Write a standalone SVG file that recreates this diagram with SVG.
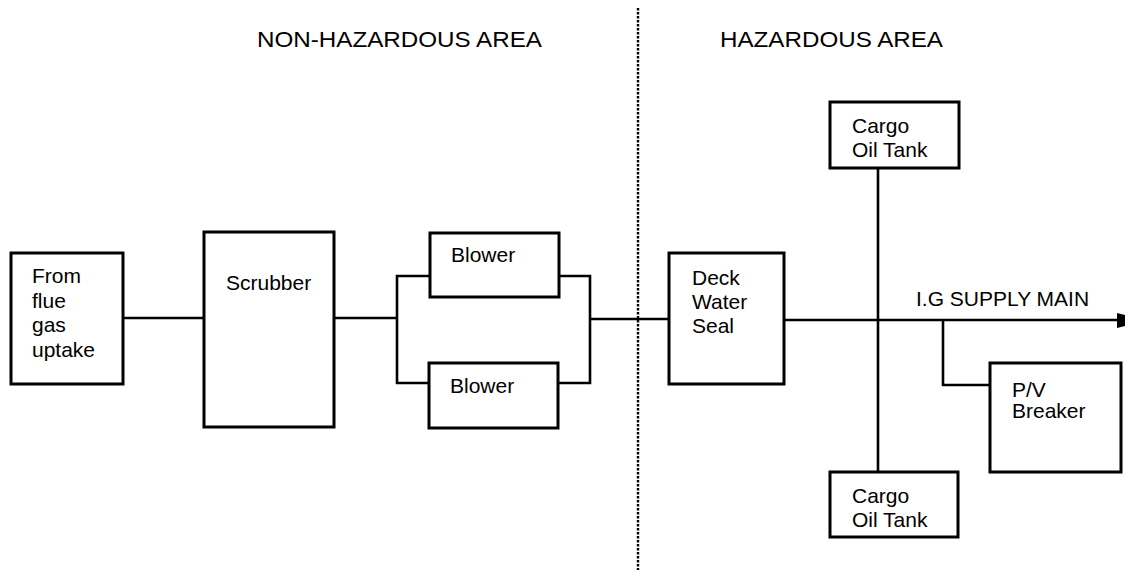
<svg xmlns="http://www.w3.org/2000/svg" width="1125" height="572" viewBox="0 0 1125 572">
<style>
.box{fill:#fff;stroke:#000;stroke-width:3}
.ln{fill:none;stroke:#000;stroke-width:2.6}
.t{font-family:"Liberation Sans",Arial,sans-serif;font-size:21px;fill:#000}
.h{font-family:"Liberation Sans",Arial,sans-serif;font-size:22px;fill:#000}
.dot{stroke:#000;stroke-width:2.4;stroke-dasharray:2.5 1.5;fill:none}
</style>
<rect width="1125" height="572" fill="#fff"/>
<text class="h" x="257" y="47" textLength="285" lengthAdjust="spacingAndGlyphs">NON-HAZARDOUS AREA</text>
<text class="h" x="720" y="47" textLength="223" lengthAdjust="spacingAndGlyphs">HAZARDOUS AREA</text>
<line class="dot" x1="638" y1="8" x2="638" y2="570"/>
<g id="connectors">
<line class="ln" x1="123" y1="318" x2="204" y2="318"/>
<line class="ln" x1="334" y1="318" x2="397" y2="318"/>
<polyline class="ln" points="430,276 397,276 397,383 429,383"/>
<polyline class="ln" points="559,276 590,276 590,383 558,383"/>
<line class="ln" x1="590" y1="319" x2="669" y2="319"/>
<line class="ln" x1="784" y1="320" x2="1118" y2="320"/>
<polygon points="1117,313 1125,315 1125,326 1117,328" fill="#000"/>
<line class="ln" x1="878" y1="168" x2="878" y2="472"/>
<polyline class="ln" points="943,320 943,385 990,385"/>
</g>
<g id="flue">
<rect class="box" x="11" y="253" width="112" height="131"/>
<text class="t" x="32" y="283">From</text>
<text class="t" x="32" y="308">flue</text>
<text class="t" x="32" y="332">gas</text>
<text class="t" x="32" y="357">uptake</text>
</g>
<g id="scrubber">
<rect class="box" x="204" y="232" width="130" height="195"/>
<text class="t" x="226" y="290">Scrubber</text>
</g>
<g id="blower1">
<rect class="box" x="430" y="233" width="129" height="64"/>
<text class="t" x="451" y="262">Blower</text>
</g>
<g id="blower2">
<rect class="box" x="429" y="363" width="129" height="65"/>
<text class="t" x="450" y="393">Blower</text>
</g>
<g id="seal">
<rect class="box" x="669" y="253" width="115" height="131"/>
<text class="t" x="692" y="285">Deck</text>
<text class="t" x="692" y="309">Water</text>
<text class="t" x="692" y="333">Seal</text>
</g>
<g id="tank-top">
<rect class="box" x="830" y="102" width="129" height="66"/>
<text class="t" x="852" y="133">Cargo</text>
<text class="t" x="852" y="157">Oil Tank</text>
</g>
<g id="tank-bottom">
<rect class="box" x="830" y="472" width="128" height="65"/>
<text class="t" x="852" y="503">Cargo</text>
<text class="t" x="852" y="527">Oil Tank</text>
</g>
<g id="pv">
<rect class="box" x="990" y="363" width="131" height="109"/>
<text class="t" x="1012" y="397">P/V</text>
<text class="t" x="1012" y="418">Breaker</text>
</g>
<text class="t" x="916" y="306">I.G SUPPLY MAIN</text>
</svg>
